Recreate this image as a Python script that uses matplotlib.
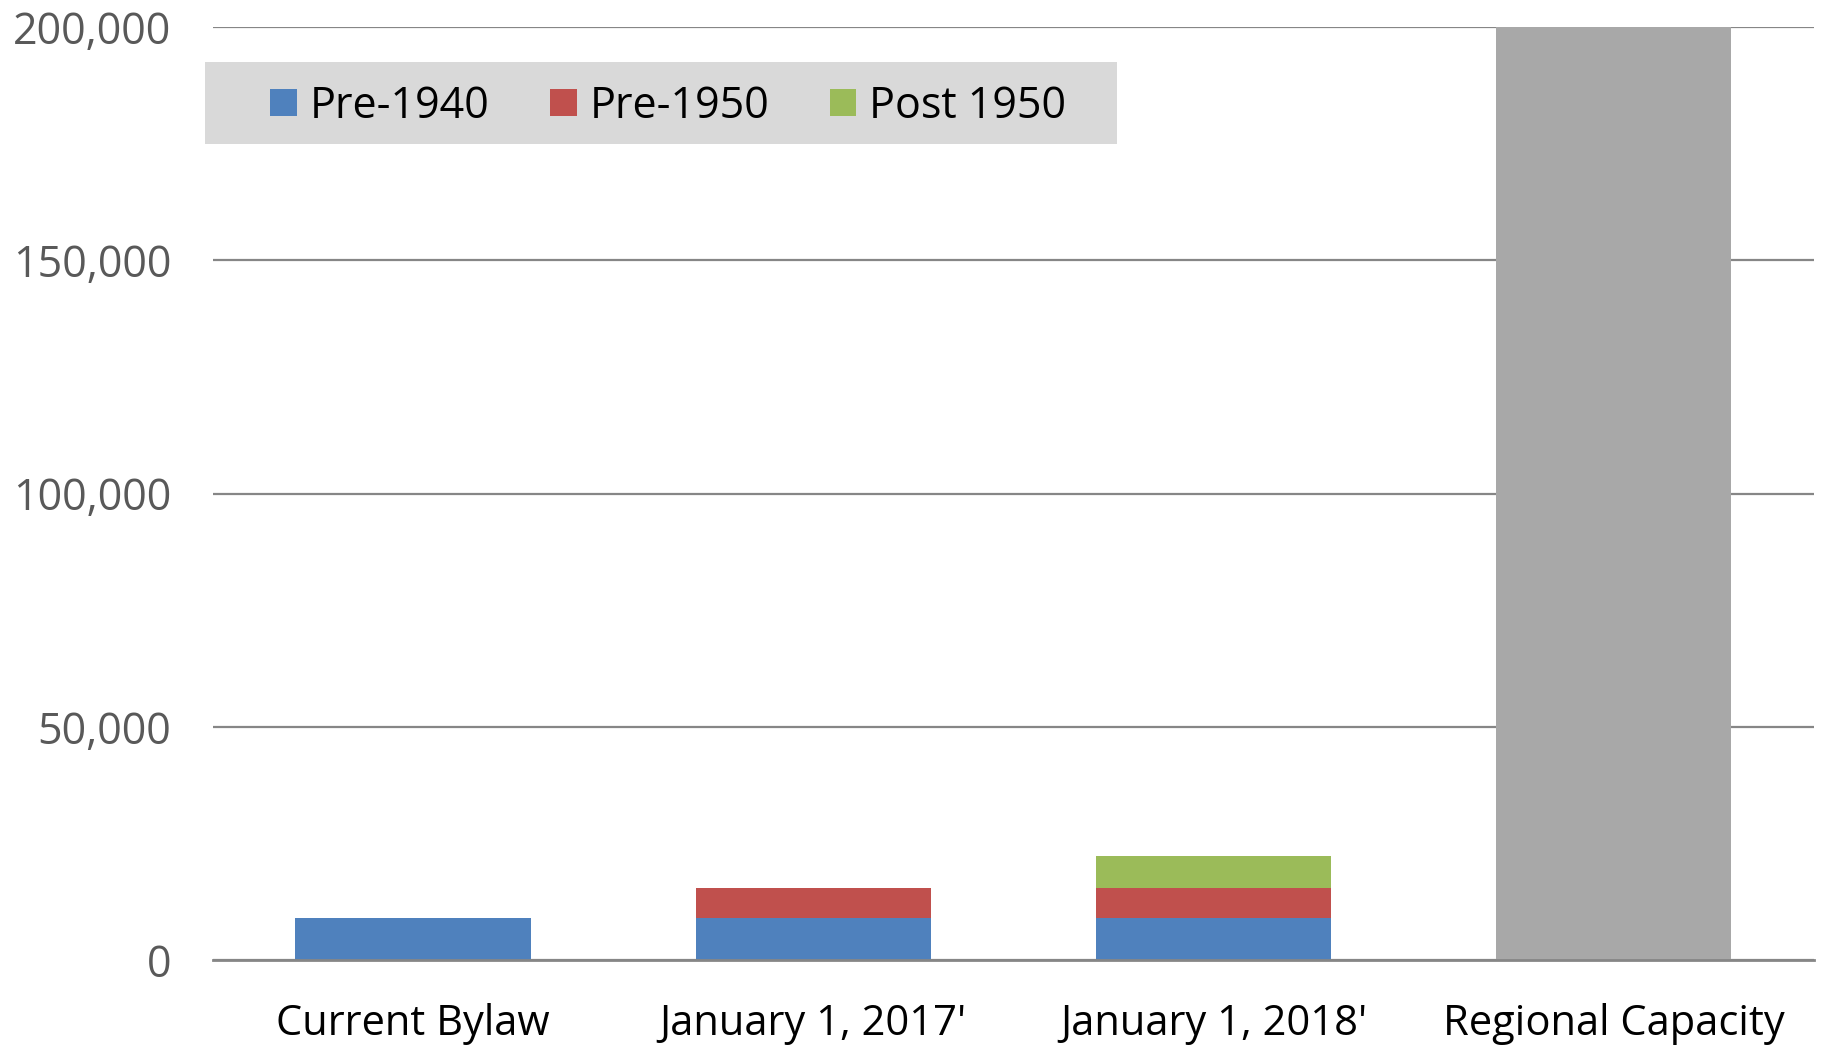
import matplotlib

matplotlib.use("Agg")
import matplotlib.pyplot as plt
import numpy as np
from matplotlib.patches import Rectangle

categories = ["Current Bylaw", "January 1, 2017'", "January 1, 2018'", "Regional Capacity"]
pre_1940 = [9000, 9000, 9000, 0]
pre_1950 = [0, 6500, 6500, 0]
post_1950 = [0, 0, 6800, 0]
regional = [0, 0, 0, 200000]
yticks = [0, 50000, 100000, 150000, 200000]

plt.rcParams["font.family"] = ["Open Sans", "DejaVu Sans"]

fig = plt.figure(figsize=(18.26, 10.46), dpi=100)
ax = fig.add_axes([0.1166, 0.0822, 0.8768, 0.892])

x = np.arange(len(categories))
w = 0.588
b1 = np.array(pre_1940)
b2 = b1 + np.array(pre_1950)
ax.bar(x, pre_1940, w, color="#4f81bd", label="Pre-1940", zorder=2)
ax.bar(x, pre_1950, w, bottom=b1, color="#c0504d", label="Pre-1950", zorder=2)
ax.bar(x, post_1950, w, bottom=b2, color="#9bbb59", label="Post 1950", zorder=2)
ax.bar(x, regional, w, color="#a8a8a8", zorder=2)

ax.set_xlim(-0.5, len(categories) - 0.5)
ax.set_ylim(0, 200000)
ax.set_yticks(yticks)
ax.set_yticklabels([f"{v:,}" for v in yticks])
ax.set_xticks(x)
ax.set_xticklabels(categories)
ax.yaxis.grid(True, color="#868686", linewidth=1.6, zorder=0)
ax.set_axisbelow(True)
for s in ["left", "right", "top"]:
    ax.spines[s].set_visible(False)
ax.spines["bottom"].set_color("#868686")
ax.spines["bottom"].set_linewidth(2)
ax.spines["bottom"].set_zorder(3)
ax.tick_params(axis="y", length=0, pad=30, labelsize=31, labelcolor="#595959")
ax.tick_params(axis="x", length=0, pad=31, labelsize=30, labelcolor="#000000")

# legend box
rx, ry, rw, rh = 205 / 1826, 1 - 144 / 1046, 912 / 1826, 82 / 1046
fig.patches.append(Rectangle((rx, ry), rw, rh, transform=fig.transFigure,
                             facecolor="#d9d9d9", edgecolor="none", zorder=1))
fig.legend(loc="center", bbox_to_anchor=(rx + rw / 2 + 0.004, ry + rh / 2 - 0.0033), ncol=3,
           frameon=False, fontsize=31, handlelength=0.62, handleheight=0.62,
           handletextpad=0.3, columnspacing=1.4)

fig.savefig("out.png", dpi=100)
